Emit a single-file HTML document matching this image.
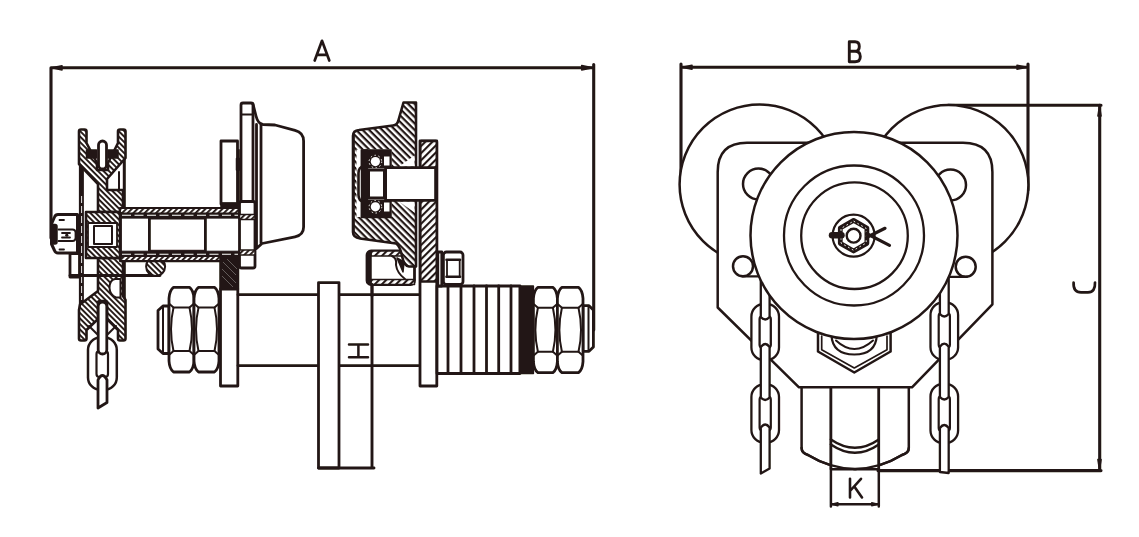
<!DOCTYPE html>
<html><head><meta charset="utf-8">
<style>
html,body{margin:0;padding:0;background:#fff;}
body{width:1139px;height:537px;overflow:hidden;font-family:"Liberation Sans",sans-serif;}
svg{display:block;}
.l{fill:none;stroke:#231815;stroke-width:2.8;stroke-linejoin:round;stroke-linecap:round;}
.w{fill:#fff;stroke:#231815;stroke-width:2.8;stroke-linejoin:round;stroke-linecap:round;}
.t{fill:none;stroke:#231815;stroke-width:2;stroke-linejoin:round;stroke-linecap:round;}
.h{fill:url(#hat);stroke:#231815;stroke-width:2.6;stroke-linejoin:round;}
.hw{fill:url(#hatw);stroke:#231815;stroke-width:2.6;stroke-linejoin:round;}
.h2{fill:url(#hat2);stroke:#231815;stroke-width:2.6;stroke-linejoin:round;}
.h3{fill:url(#hat3);stroke:#231815;stroke-width:2.6;stroke-linejoin:round;}
.d{fill:none;stroke:#231815;stroke-width:3.1;stroke-linejoin:round;stroke-linecap:round;}
.k{fill:#231815;stroke:#231815;stroke-width:1.5;stroke-linejoin:round;}
.g{fill:none;stroke:#231815;stroke-width:2.3;stroke-linejoin:round;stroke-linecap:round;}
#right .w,#right .l{stroke-width:2.5;}
#chainL .w,#chainR .w{stroke-width:2.3;}
</style></head><body>
<svg width="1139" height="537" viewBox="0 0 1139 537">
<defs>
<pattern id="hat" width="3.9" height="3.9" patternUnits="userSpaceOnUse" patternTransform="rotate(45)">
<rect width="3.9" height="3.9" fill="#fff"/><rect width="3.9" height="1.9" fill="#231815"/></pattern>
<pattern id="hatw" width="4.6" height="4.6" patternUnits="userSpaceOnUse" patternTransform="rotate(45)">
<rect width="4.6" height="4.6" fill="#fff"/><rect width="4.6" height="2.2" fill="#231815"/></pattern>
<pattern id="hat2" width="5" height="5" patternUnits="userSpaceOnUse" patternTransform="rotate(-45)">
<rect width="5" height="5" fill="#fff"/><rect width="5" height="2.1" fill="#231815"/></pattern>
<pattern id="hat3" width="4" height="4" patternUnits="userSpaceOnUse" patternTransform="rotate(-45)">
<rect width="4" height="4" fill="#fff"/><rect width="4" height="1.900" fill="#231815"/></pattern>
<filter id="soft" x="0" y="0" width="100%" height="100%" filterUnits="userSpaceOnUse"><feGaussianBlur stdDeviation="0.3"/></filter>
</defs>
<rect width="1139" height="537" fill="#fff"/>
<g filter="url(#soft)">
<g id="left">
<!-- dim A -->
<path class="d" d="M51,67.800H593.700M51,67.800V238M593.700,64.500V330"/>
<path class="k" d="M52,67.800l10,-2.100v4.200zM592.700,67.800l-11,-2.300v4.600z"/>

<!-- pulley outer rim lines -->
<path class="l" d="M81.400,150V320" style="stroke-width:5;stroke-linecap:butt"/>
<path d="M81.600,196V300" fill="none" stroke="#fff" stroke-width="0.900" stroke-dasharray="7 3"/>
<path class="l" d="M124.300,150V208M124.300,262V320" style="stroke-width:3"/>
<path class="t" d="M119,172V192"/>
<!-- pulley top half hatched -->
<path class="h" d="M79,131.5Q79,129.5 81,129.5H84.5Q86.5,129.5 86.5,131.5V143L97,163V170H108V163L118,143V131.5Q118,129.5 120,129.5H123.5Q125.5,129.5 125.5,131.5V158L107,179V190H123V212H98V184L79,164Z"/>
<!-- pulley bottom half hatched -->
<path class="h" d="M98,258V291L80,304.500L79,310V338.500Q79,340.500 81,340.500H84.500Q86.500,340.500 86.500,338.500V330L98,319V303Q98,301 100,301H105Q107,301 107,303V319L118,330V338.500Q118,340.500 120,340.500H123.500Q125.500,340.500 125.500,338.500V300L123,296V258Z"/>
<path class="w" d="M120.500,279H115Q109.500,280 109.500,288Q110,295 116,297.500H120.500Z" style="stroke-width:2"/>
<!-- chain link in top groove -->
<rect class="k" x="86.5" y="150" width="10" height="8"/><rect class="k" x="108" y="150" width="10" height="8"/>
<rect class="w" x="98.5" y="141" width="8" height="28" rx="4"/>
<!-- left chain -->
<rect class="w" x="88" y="337.400" width="28.800" height="52.500" rx="12.500" style="stroke-width:2.500"/>
<rect class="w" x="96.500" y="351" width="11.500" height="26" rx="3" style="stroke-width:2.200"/>
<path class="w" d="M98,380Q102.400,371 107,380V402.500L98,408Z"/>
<rect class="w" x="98.200" y="302" width="8.600" height="52" rx="4.300"/>
<path class="t" d="M89,326L97,334M116,326L108,334"/>
<!-- hub -->
<rect class="h" x="86" y="212" width="34" height="46"/>
<rect class="w" x="88" y="223" width="29" height="24" style="stroke-width:1.8"/>
<rect class="t" x="94" y="226" width="18" height="18"/>
<!-- castle nut -->
<path class="w" d="M58,214.500H77.500V253H58Q55.500,253 54.500,250.500L51.500,244V224L54.500,217Q55.500,214.500 58,214.500Z" style="stroke-width:3"/>
<rect class="k" x="51" y="224.500" width="6" height="19.500" rx="2"/>
<path class="t" d="M59.500,220H64M59.500,249.500H64M58.500,229.500H72.500Q75.500,229.500 75.500,232.500V238Q75.500,241 72.500,241H58.500M62,233H70M62,237.500H70" style="stroke-width:1.800"/>
<circle cx="66.800" cy="235.200" r="1.600" fill="#231815"/>
<rect class="w" x="70" y="253.500" width="9.500" height="23.500"/>
<!-- line below tube with small hatched circle -->
<path class="l" d="M70,275.5H160"/>
<circle class="h" cx="155.600" cy="266.600" r="9.500" style="stroke-width:2"/>
<!-- tube -->
<rect class="h3" x="120" y="208" width="119.500" height="5.500" style="stroke-width:2.200"/>
<rect class="k" x="120" y="213.500" width="119.500" height="4.600" style="stroke-width:1"/>
<path d="M122,215.300H238" fill="none" stroke="#fff" stroke-width="1.100" stroke-dasharray="9 3.500"/>
<rect class="h3" x="120" y="255.800" width="119.500" height="5.300" style="stroke-width:2.200"/>
<rect class="k" x="120" y="251.200" width="119.500" height="4.600" style="stroke-width:1"/>
<path d="M122,254.200H238" fill="none" stroke="#fff" stroke-width="1.100" stroke-dasharray="9 3.500"/>
<path class="l" d="M120.500,212V258M149.400,218V251.500M205.400,218V251.500" style="stroke-linecap:butt"/>
<rect class="k" x="149.400" y="217" width="56" height="2" style="stroke-width:1"/>
<rect class="k" x="149.400" y="250.300" width="56" height="2" style="stroke-width:1"/>
<!-- small rect left of side plate -->
<rect class="w" x="221" y="141" width="16.5" height="63"/>
<rect class="k" x="221" y="203" width="18" height="5"/>
<path class="t" d="M238.8,150V203"/><path class="k" d="M236.500,158.500h5v11.500h-5z"/>
<!-- side plate left -->
<path class="w" d="M241,267V105Q241,103 243,103H251Q253,103 253,105V267"/>
<path class="t" d="M242,114.500H253"/>
<!-- cover dome -->
<path class="w" d="M253,104L256,116Q258,124 263,124.500L275,125L295,130.300Q303.600,132.500 303.600,141V227Q303.600,235 295,236.800L262,243.500L256.500,248.500V124.500"/>
<path class="l" d="M261,124V243"/>
<!-- box at tube end -->
<rect class="w" x="239.5" y="201.5" width="15.5" height="66.5" rx="2"/>
<rect class="h3" x="239.500" y="214.500" width="15.500" height="5" style="stroke-width:1.500"/>
<rect class="h3" x="239.500" y="250" width="15.500" height="5" style="stroke-width:1.500"/>
<!-- dark block -->
<rect class="k" x="220" y="257.500" width="18.500" height="31.500"/>
<path d="M223,262L236,275M222,269L236,283M227,259L237,269M222,276L233,287" fill="none" stroke="#fff" stroke-width="0.500" opacity="0.600"/>
<!-- lower plate -->
<rect class="w" x="220.5" y="289" width="17.3" height="97"/>
<!-- shaft -->
<path class="l" d="M238,294.7H318M339,294.7H418.5M238,365.6H318M339,365.6H418.5"/>
<!-- left nuts -->
<path class="w" d="M169,306V353.500H163L158,349V310.500L163,306Z"/>
<path class="t" d="M163,307V352.500"/>
<path class="w" d="M169,298.3Q169.5,290.3 173.5,287.3H189.5Q193.5,290.3 194,298.3V361Q193.5,369 189.5,372H173.5Q169.5,369 169,361Z"/>
<path class="t" d="M169.5,304.1L173.5,307.6H189.5L193.5,304.1M169.5,354.5L173.5,351H189.5L193.5,354.5"/>
<path class="t" d="M173.5,307.6Q168.5,329.3 173.5,351M189.5,307.6Q194.5,329.3 189.5,351"/>
<path class="w" d="M194,298.3Q194.5,290.3 198.5,287.3H214.5Q218.5,290.3 219,298.3V361Q218.5,369 214.5,372H198.5Q194.5,369 194,361Z"/>
<path class="t" d="M194.5,304.1L198.5,307.6H214.5L218.5,304.1M194.5,354.5L198.5,351H214.5L218.5,354.5"/>
<path class="t" d="M198.5,307.6Q193.5,329.3 198.5,351M214.5,307.6Q219.5,329.3 214.5,351"/>
<!-- middle plate -->
<rect class="w" x="318.5" y="282.6" width="20.5" height="185.400"/>
<!-- H dim -->
<path class="d" d="M372,285V468M318.500,468H374" style="stroke-width:2.900"/>
<!-- right plate -->
<path class="w" d="M420,141H436.800V386H420Z"/>
<rect class="h2" x="420.300" y="141" width="16.500" height="140.500" rx="1"/>

<!-- small box under wheel -->
<rect class="w" x="367" y="251" width="47.500" height="33.500" rx="4"/>
<rect class="h2" x="371" y="251" width="43.500" height="5" style="stroke-width:1.5"/>
<rect class="h2" x="371" y="279.500" width="43.500" height="5" style="stroke-width:1.5"/>
<path class="l" d="M369.500,253V282" style="stroke-width:4.500"/>
<path class="t" d="M392,256Q397,258 396,265Q397,273 405,279"/>
<path class="k" d="M397,258L404,262L403,272Z"/>
<!-- H ext top -->
<path class="l" d="M372,284.500V296"/>
<!-- wheel section -->
<path class="hw" d="M403.500,102.500H416V266.500H409Q404,266 402,256Q400,246 396,243.500L360,238.500Q353,237.500 353,232V136Q353,130.500 359,130L393,125.500Q397.500,125 398.500,120Z"/>
<rect class="w" x="356.500" y="149.500" width="35" height="67.500" style="stroke:none"/>
<path class="l" d="M353.500,136V232" style="stroke-width:2.600"/>
<!-- white chamfer gaps -->
<path d="M399,166.500L414.500,155.500V166.500Z" fill="#fff"/><path d="M399,201.500L414.500,212.500V201.500Z" fill="#fff"/>
<!-- bearing -->
<rect class="k" x="361.500" y="150" width="29.500" height="17.500"/>
<rect class="k" x="361.500" y="200.500" width="29.500" height="17"/>
<rect class="k" x="361.500" y="150" width="6" height="67"/>
<rect class="w" x="384" y="156.500" width="5.500" height="9" style="stroke:none"/>
<rect class="w" x="384" y="202.500" width="5.500" height="9" style="stroke:none"/>
<circle cx="375.400" cy="161.600" r="4.600" fill="#fff"/><circle cx="375.400" cy="161.600" r="6.300" fill="none" stroke="#fff" stroke-width="1" stroke-dasharray="1.500 2.500"/>
<circle cx="375.400" cy="206.800" r="4.600" fill="#fff"/><circle cx="375.400" cy="206.800" r="6.300" fill="none" stroke="#fff" stroke-width="1" stroke-dasharray="1.500 2.500"/>
<rect class="w" x="368.500" y="170" width="16" height="28" style="stroke-width:3"/>
<path class="l" d="M364,166Q358.500,167 358.500,173V195Q358.500,201 364,202" style="stroke-width:2.600"/>
<!-- axle -->
<rect class="w" x="385.600" y="167.700" width="50" height="32.600" style="stroke-width:2.800"/>

<!-- threaded part -->
<rect class="w" x="437" y="286" width="83" height="87.500"/>
<path class="l" d="M448,286V373.500M461,286V373.500M474,286V373.500M486.500,286V373.500M498.700,286V373.500M511,286V373.500"/>
<rect class="k" x="519.6" y="286" width="13.8" height="87.500"/>
<!-- right nuts -->
<path class="w" d="M583,305.700H589L593.400,310V347L589,351.300H583Z"/>
<path class="t" d="M588.500,307V350"/>
<path class="w" d="M533.4,298.4Q533.9,290.4 537.9,287.4H552.9Q556.9,290.4 557.4,298.4V361.7Q556.9,369.7 552.9,372.7H537.9Q533.9,369.7 533.4,361.7Z"/>
<path class="t" d="M533.9,304.2L537.9,307.7H552.9L556.9,304.2M533.9,355.2L537.9,351.7H552.9L556.9,355.2"/>
<path class="t" d="M537.9,307.7Q532.9,329.7 537.9,351.7M552.9,307.7Q557.9,329.7 552.9,351.7"/>
<path class="w" d="M557.4,298.4Q557.9,290.4 561.9,287.4H578.5Q582.5,290.4 583,298.4V361.7Q582.5,369.7 578.5,372.7H561.9Q557.9,369.7 557.4,361.7Z"/>
<path class="t" d="M557.9,304.2L561.9,307.7H578.5L582.5,304.2M557.9,355.2L561.9,351.7H578.5L582.5,355.2"/>
<path class="t" d="M561.9,307.7Q556.9,329.7 561.9,351.7M578.5,307.7Q583.5,329.7 578.5,351.7"/>
<!-- bolt head + washer -->
<rect class="w" x="437.800" y="252" width="4" height="34"/>
<rect class="w" x="443.400" y="252" width="19.600" height="32.500" rx="3"/>
<path class="l" d="M446.500,259.800H460M446.500,276.800H460" style="stroke-width:2.600"/><path class="t" d="M447,260V277M459.700,260V277" style="stroke-width:1.800"/>
</g>

<g id="right">
<!-- dim B -->
<path class="d" d="M681,67.200H1028M681,64V190M1028,64V190"/>
<path class="k" d="M682,67.200l10,-2v4zM1027,67.200l-10,-2v4z"/>
<!-- dim C -->
<path class="d" d="M948,105.200H1101M1099.700,105V470.600M878,470.600H1101"/>
<path class="k" d="M1099.500,106l-1.600,10h3.200zM1099.500,469.600l-1.600,-10h3.200z"/>
<!-- wheels -->
<circle class="w" cx="759.600" cy="184.500" r="80"/>
<circle class="w" cx="948.400" cy="185" r="80"/>
<!-- side plate -->
<path class="w" d="M717.700,172Q717.700,142.800 747,142.800H963Q992.400,142.800 992.400,172V304.300L912,387.300H799L717.700,307.500Z"/>
<!-- holes -->
<circle class="w" cx="758.500" cy="184" r="15.500"/>
<circle class="w" cx="950.500" cy="185" r="15.500"/>
<circle class="w" cx="743" cy="266.300" r="10"/>
<circle class="w" cx="965.700" cy="266.800" r="10"/>
<path class="l" d="M742,276.300H760M967,276.800H948" style="stroke-width:2.200"/>
<!-- bottom hex nut -->
<path class="w" d="M818,333V351.500L854.300,372.500L890.600,351.500V333Z"/>
<path class="t" d="M821.700,336V349.800L854.300,368L887,349.800V336" style="stroke-width:1.700"/>
<path class="l" d="M831.400,335Q832.500,354.500 854.300,354.500Q876,354.500 876.800,335" style="stroke-width:2.200"/>
<path class="l" d="M836,340.500Q854.300,357.500 873,340.500" style="stroke-width:2"/>
<!-- hook block -->
<path class="w" d="M801.600,387.300V448Q801.600,453 808,455Q830,468.500 855,469Q880,468.500 902,455Q908.800,453 908.800,448V387.300Z"/>
<rect class="w" x="830.900" y="387.300" width="47.900" height="82" style="fill:#fff"/>
<path class="l" d="M830.900,387.300V506.500M878.800,387.300V506.500M830.900,504.200H878.800"/>
<path class="k" d="M831.900,504.200l6,-1.500v3zM877.800,504.200l-6,-1.500v3z"/>
<path class="l" d="M830.900,439.500Q855,456 878.800,439.500M830.900,444.500Q855,461 878.800,444.500"/>
<path class="l" d="M801.600,448Q801.600,453 808,455Q830,468.500 855,469Q880,468.500 902,455Q908.800,453 908.800,448"/>
<!-- chains (behind big circle) -->
<g id="chainL">
<rect class="w" x="751.4" y="304" width="27.6" height="56" rx="12.500"/>
<rect class="w" x="759.6" y="316" width="11.2" height="32" rx="3"/>
<rect class="w" x="751.4" y="384.5" width="27.6" height="58.0" rx="12.500"/>
<rect class="w" x="759.6" y="396.5" width="11.2" height="34.0" rx="3" style="stroke-width:2.200"/>
<path class="w" d="M760.8,268V317Q765.2,322 769.6,317V268Z"/>
<path class="w" d="M760.8,347Q765.2,341 769.6,347V397.5Q765.2,402.5 760.8,397.5Z"/>
<path class="w" d="M760.8,427.5Q765.2,421.5 769.6,427.5V468.5L760.8,473.5Z"/>
</g>
<g id="chainR">
<rect class="w" x="930.5" y="302.500" width="27.600" height="57.200" rx="12.500"/>
<rect class="w" x="938.7" y="313" width="11.2" height="34.69999999999999" rx="3" style="stroke-width:2.200"/>
<rect class="w" x="930.5" y="384" width="27.6" height="59" rx="12.500"/>
<rect class="w" x="938.7" y="396" width="11.2" height="35" rx="3" style="stroke-width:2.200"/>
<path class="w" d="M939.9,268V314Q944.3,319 948.7,314V268Z"/>
<path class="w" d="M939.9,346.7Q944.3,340.7 948.7,346.7V397Q944.3,402 939.9,397Z"/>
<path class="w" d="M939.9,428Q944.3,422 948.7,428V473L939.9,472Z"/>
</g>
<!-- big circle etc -->
<circle class="w" cx="854" cy="235.500" r="103.500" style="stroke-width:2.500"/>
<circle class="w" cx="854" cy="235.500" r="70" style="stroke-width:2.300"/>
<circle class="w" cx="854.500" cy="235.700" r="53.300" style="stroke-width:2.300"/>
<circle class="w" cx="853.6" cy="235.7" r="21" style="stroke-width:2.200"/>
<path class="l" d="M853.6,220.4L866.9,228.0L866.9,243.3L853.6,251.0L840.3,243.3L840.3,228.0Z" style="stroke-width:4.800"/>
<path d="M853.6,221.1L866.2,228.4L866.2,243.0L853.6,250.3L841.0,243.0L841.0,228.4Z" style="fill:none;stroke:#fff;stroke-width:0.900;stroke-dasharray:1.800 2.600"/>
<circle class="w" cx="853.6" cy="235.7" r="6.900" style="stroke-width:2.400"/>
<path class="l" d="M832,235.300H841.500" style="stroke-width:6.500"/>
<path class="l" d="M866.500,237.500L885,228.300M866.500,233.500L889.500,245.300" style="stroke-width:3.200"/>
</g>

<g id="labels" class="g">
<path d="M314.700,60.500L322,40.800L329.300,60.500M317.300,54.800H326.700" style="stroke-width:2.700"/>
<path d="M849.300,41.800V61.800M849.300,41.800H855Q859.300,41.800 859.300,46.500Q859.300,51.300 855,51.300H849.300M855,51.300Q860.300,51.300 860.300,56.500Q860.300,61.800 855,61.800H849.300" style="stroke-width:2.900"/>
<path d="M850,478.800V497.500M861,478.800L850,491M854.300,486.500L862,497.500" style="stroke-width:2.600"/>
<path d="M349,344.600H368M349,357.300H368M358.400,344.600V357.300" style="stroke-width:2.500"/>
<path d="M1073.600,282.500Q1073,292.300 1081,292.300H1088Q1095.400,292.300 1095,282.500" style="stroke-width:2.700"/>
</g>

</g>
</svg>
</body></html>
